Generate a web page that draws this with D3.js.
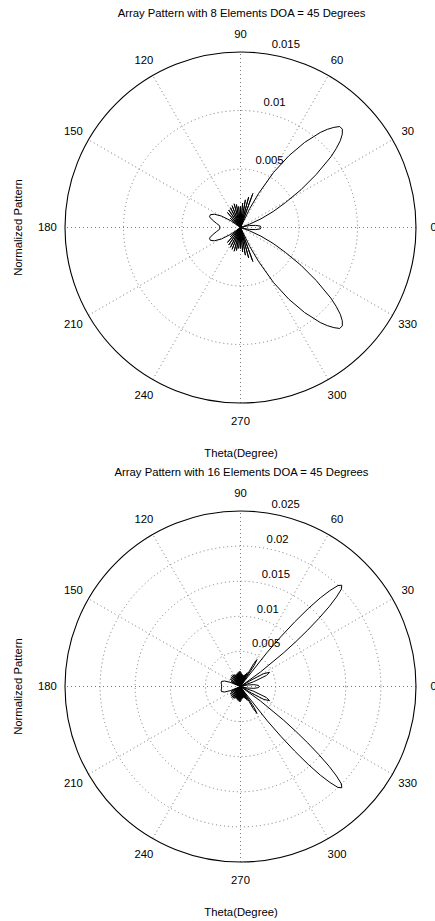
<!DOCTYPE html>
<html>
<head>
<meta charset="utf-8">
<script src="https://cdn.jsdelivr.net/npm/d3@7"></script>
<style>
  body { margin: 0; background: #fff; }
  svg { display: block; }
  text { font-family: "Liberation Sans", Arial, Helvetica, sans-serif; font-size: 11.3px; fill: #000; }
</style>
</head>
<body>
<svg id="chart" width="435" height="921"></svg>
<script>
// angle labels (degrees) and ring ticks for both plots
const angleTicks = [0, 30, 60, 90, 120, 150, 180, 210, 240, 270, 300, 330];
const ringTicks8 = [0.005, 0.01, 0.015];
const ringTicks16 = [0.005, 0.01, 0.015, 0.02, 0.025];

// [theta in degrees, pattern value], 8 elements
const pattern8 = [
  [0, 0.00175], [4, 0.0017], [8, 0.0013], [12, 0.0008], [15, 0.0003], [17, 0], [20, 0.0008],
  [23, 0.0019], [26, 0.0031], [29, 0.0044], [32, 0.0061], [35, 0.0079], [38, 0.0098], [39.5, 0.0106],
  [41, 0.0113], [42.5, 0.0118], [44, 0.0121], [45.5, 0.0121], [47, 0.0117], [48.5, 0.0112],
  [50, 0.0106], [53, 0.0091], [56, 0.0074], [59, 0.0055], [62, 0.0033],
  [64, 0.0018], [66, 0], [70, 0.0031], [72.5, 0], [75, 0.0027], [77.5, 0], [80, 0.0024], [82.5, 0],
  [85, 0.0021], [87.5, 0], [90, 0.0018], [92.5, 0], [95, 0.0018], [97.5, 0], [100, 0.002], [102.5, 0],
  [105, 0.0021], [108, 0], [111, 0.002], [114, 0], [117, 0.0019], [120.5, 0], [124, 0.0018], [127.5, 0],
  [131, 0.0017], [134.5, 0], [138, 0.0012], [142, 0], [145, 0.001], [149, 0.0019], [153, 0.0025],
  [157, 0.0028], [161, 0.0028], [165, 0.0025], [170, 0.0021], [175, 0.0018], [180, 0.00175],
  [185, 0.0018], [190, 0.0021], [195, 0.0025], [199, 0.0028], [203, 0.0028], [207, 0.0025],
  [211, 0.0019], [215, 0.001], [218, 0], [222, 0.0012], [225.5, 0], [229, 0.0017], [232.5, 0],
  [236, 0.0018], [239.5, 0], [243, 0.0019], [246, 0], [249, 0.002], [252, 0], [255, 0.0021],
  [257.5, 0], [260, 0.002], [262.5, 0], [265, 0.0018], [267.5, 0], [270, 0.0018], [272.5, 0],
  [275, 0.0021], [277.5, 0], [280, 0.0024], [282.5, 0], [285, 0.0027], [287.5, 0], [290, 0.0031],
  [294, 0], [296, 0.0018], [298, 0.0033], [301, 0.0055], [304, 0.0074], [307, 0.0091], [310, 0.0106],
  [311.5, 0.0112], [313, 0.0117], [314.5, 0.0121], [316, 0.0121], [317.5, 0.0118], [319, 0.0113],
  [320.5, 0.0106], [322, 0.0098], [325, 0.0079], [328, 0.0061],
  [331, 0.0044], [334, 0.0031], [337, 0.0019], [340, 0.0008], [343, 0], [345, 0.0003], [348, 0.0008],
  [352, 0.0013], [356, 0.0017]
];

// 16 elements
const pattern16 = [
  [0, 0.0027], [4, 0.0025], [8, 0.0019], [12, 0.001], [15, 0.0004], [17, 0], [20, 0.002], [23, 0.004],
  [26, 0.0046], [29, 0.0038], [31, 0.0018], [33, 0], [36, 0.0035], [38, 0.0078], [39, 0.0101],
  [40, 0.0125], [41, 0.0148], [42, 0.017], [43, 0.0187], [44, 0.02], [45, 0.0204], [46, 0.02],
  [47, 0.0187], [48, 0.017], [49, 0.0147], [50, 0.012], [51, 0.0091], [52, 0.0062],
  [54, 0.001], [55, 0], [57, 0.0036], [58.5, 0.0045], [60, 0.0036], [62, 0], [64, 0.0022], [66, 0],
  [68, 0.0019], [70, 0], [72, 0.0017], [74, 0], [76, 0.0016], [78, 0], [80, 0.0017], [82, 0],
  [84, 0.0018], [86, 0], [88, 0.002], [90, 0], [92, 0.0022], [94, 0], [96, 0.0021], [98, 0],
  [100, 0.002], [102, 0], [104, 0.0019], [106, 0], [108, 0.0018], [110, 0], [112, 0.0018], [114, 0],
  [117, 0.0019], [120, 0], [123, 0.002], [126, 0], [129, 0.002], [132, 0], [136, 0.0019], [140, 0],
  [144, 0.0018], [148, 0], [152, 0.0015], [156, 0], [158, 0.0016], [161, 0.0024], [165, 0.0028],
  [170, 0.0028], [175, 0.0027], [180, 0.0027],
  [185, 0.0027], [190, 0.0028], [195, 0.0028], [199, 0.0024], [202, 0.0016], [204, 0], [208, 0.0015],
  [212, 0], [216, 0.0018], [220, 0], [224, 0.0019], [228, 0], [231, 0.002], [234, 0], [237, 0.002],
  [240, 0], [243, 0.0019], [246, 0], [248, 0.0018], [250, 0], [252, 0.0018], [254, 0], [256, 0.0019],
  [258, 0], [260, 0.002], [262, 0], [264, 0.0021], [266, 0], [268, 0.0022], [270, 0], [272, 0.002],
  [274, 0], [276, 0.0018], [278, 0], [280, 0.0017], [282, 0], [284, 0.0016], [286, 0], [288, 0.0017],
  [290, 0], [292, 0.0019], [294, 0], [296, 0.0022], [298, 0], [300, 0.0036], [301.5, 0.0045],
  [303, 0.0036], [305, 0], [306, 0.001], [308, 0.0062], [309, 0.0091], [310, 0.012], [311, 0.0147],
  [312, 0.017], [313, 0.0187], [314, 0.02], [315, 0.0204], [316, 0.02], [317, 0.0187], [318, 0.017],
  [319, 0.0148], [320, 0.0125], [321, 0.0101], [322, 0.0078], [324, 0.0035], [327, 0],
  [329, 0.0018], [331, 0.0038], [334, 0.0046], [337, 0.004], [340, 0.002], [343, 0], [345, 0.0004],
  [348, 0.001], [352, 0.0019], [356, 0.0025]
];

const panels = [
  { title: "Array Pattern with 8 Elements DOA = 45 Degrees", data: pattern8, ticks: ringTicks8, rmax: 0.015, top: 0 },
  { title: "Array Pattern with 16 Elements DOA = 45 Degrees", data: pattern16, ticks: ringTicks16, rmax: 0.025, top: 459 }
];

const svg = d3.select("#chart");
const cx = 240.5;
const R = 175.5;
const rad = (deg) => (deg * Math.PI) / 180;

panels.forEach(renderPolar);

function renderPolar(p) {
  const cy = p.top + 227.5;
  const g = svg.append("g");
  const r = d3.scaleLinear().domain([0, p.rmax]).range([0, R]);
  const rinc = p.ticks[0];

  // inner rings
  g.selectAll("circle.ring")
    .data(p.ticks.slice(0, -1))
    .join("circle")
    .attr("cx", cx)
    .attr("cy", cy)
    .attr("r", (d) => r(d))
    .attr("fill", "none")
    .attr("stroke", "#777")
    .attr("stroke-width", 1)
    .attr("stroke-dasharray", "1,3");

  // spokes through the centre
  g.selectAll("line.spoke")
    .data(angleTicks.slice(1, 7))
    .join("line")
    .attr("x1", (d) => cx - R * Math.cos(rad(d)))
    .attr("y1", (d) => cy + R * Math.sin(rad(d)))
    .attr("x2", (d) => cx + R * Math.cos(rad(d)))
    .attr("y2", (d) => cy - R * Math.sin(rad(d)))
    .attr("stroke", "#777")
    .attr("stroke-width", 1)
    .attr("stroke-dasharray", "1,3");

  // outer circle
  g.append("circle")
    .attr("cx", cx)
    .attr("cy", cy)
    .attr("r", r(p.rmax))
    .attr("fill", "none")
    .attr("stroke", "#000")
    .attr("stroke-width", 1.1);

  // ring labels at 82 degrees
  g.selectAll("text.rlab")
    .data(p.ticks)
    .join("text")
    .attr("x", (d) => cx + r(d + rinc / 20) * Math.cos(rad(82)))
    .attr("y", (d) => cy - r(d + rinc / 20) * Math.sin(rad(82)) - 2.6)
    .attr("dx", "0.56em")
    .text((d) => String(d));

  // angle labels
  g.selectAll("text.alab")
    .data(angleTicks)
    .join("text")
    .attr("x", (d) => cx + 1.1 * R * Math.cos(rad(d)))
    .attr("y", (d) => cy - 1.1 * R * Math.sin(rad(d)))
    .attr("dy", "0.35em")
    .attr("text-anchor", "middle")
    .text((d) => d);

  // pattern
  const line = d3
    .lineRadial()
    .angle((d) => rad(90 - d[0]))
    .radius((d) => r(d[1]))
    .curve(d3.curveLinearClosed);

  g.append("path")
    .datum(p.data)
    .attr("transform", `translate(${cx},${cy})`)
    .attr("fill", "none")
    .attr("stroke", "#000")
    .attr("stroke-width", 1)
    .attr("d", line);

  // titles and axis labels
  g.append("text")
    .attr("x", 241.5)
    .attr("y", p.top + 13.3)
    .attr("dy", "0.35em")
    .attr("text-anchor", "middle")
    .text(p.title);

  g.append("text")
    .attr("x", 241)
    .attr("y", p.top + 453)
    .attr("dy", "0.35em")
    .attr("text-anchor", "middle")
    .text("Theta(Degree)");

  g.append("text")
    .attr("transform", `translate(18.5,${cy}) rotate(-90)`)
    .attr("dy", "0.35em")
    .attr("text-anchor", "middle")
    .text("Normalized Pattern");
}
</script>
</body>
</html>
